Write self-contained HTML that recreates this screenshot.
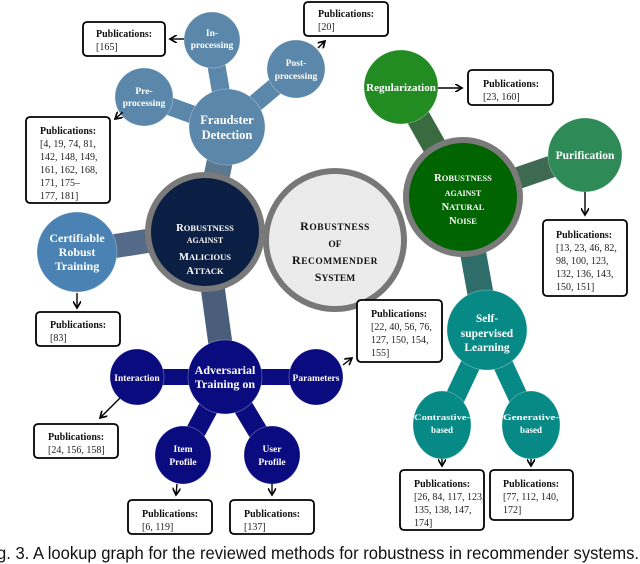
<!DOCTYPE html>
<html><head><meta charset="utf-8"><style>
html,body{margin:0;padding:0;background:#fff;width:640px;height:564px;overflow:hidden}
svg{display:block}
text{font-family:"Liberation Serif",serif}
.w{fill:#fff;font-weight:bold;text-anchor:middle}
.pb{font-size:10px;font-weight:bold;fill:#111}
.pr{font-size:10px;fill:#222}
.box{fill:#fff;stroke:#000;stroke-width:1.8}
.ar{stroke:#000;stroke-width:1.4;fill:none;marker-end:url(#ah)}
</style></head><body>
<svg width="640" height="564" viewBox="0 0 640 564" xmlns="http://www.w3.org/2000/svg">
<defs><marker id="ah" markerWidth="6" markerHeight="6" refX="5" refY="3" orient="auto"><path d="M0,0 L5,3 L0,6" fill="none" stroke="#000" stroke-width="1.2"/></marker></defs>
<g stroke-linecap="round">
<line x1="227" y1="127" x2="212" y2="40" stroke="#5b88aa" stroke-width="18"/>
<line x1="227" y1="127" x2="296" y2="69" stroke="#5b88aa" stroke-width="18"/>
<line x1="227" y1="127" x2="144" y2="97" stroke="#5b88aa" stroke-width="18"/>
<line x1="227" y1="127" x2="205" y2="232" stroke="#5b7890" stroke-width="26"/>
<line x1="77" y1="252" x2="205" y2="232" stroke="#556a88" stroke-width="24"/>
<line x1="205" y1="232" x2="225" y2="377" stroke="#4a5d7a" stroke-width="24"/>
<line x1="225" y1="377" x2="137" y2="377" stroke="#0b0b80" stroke-width="16"/>
<line x1="225" y1="377" x2="316" y2="377" stroke="#0b0b80" stroke-width="16"/>
<line x1="225" y1="377" x2="183" y2="455" stroke="#0b0b80" stroke-width="20"/>
<line x1="225" y1="377" x2="272" y2="455" stroke="#0b0b80" stroke-width="20"/>
<line x1="463" y1="197" x2="401" y2="87" stroke="#3a6a40" stroke-width="24"/>
<line x1="463" y1="197" x2="585" y2="155" stroke="#3d6a50" stroke-width="22"/>
<line x1="463" y1="197" x2="487" y2="330" stroke="#2e6d6a" stroke-width="26"/>
<line x1="487" y1="330" x2="442" y2="425" stroke="#078a85" stroke-width="20"/>
<line x1="487" y1="330" x2="531" y2="425" stroke="#078a85" stroke-width="20"/>
</g>
<circle cx="335" cy="240" r="69" fill="#ebebeb" stroke="#777" stroke-width="6"/>
<circle cx="205" cy="232" r="57" fill="#0b1f45" stroke="#7a7a7a" stroke-width="6"/>
<circle cx="463" cy="197" r="57" fill="#006400" stroke="#7a7a7a" stroke-width="6"/>
<g stroke="#ffffff55" stroke-width="0.8">
<circle cx="227" cy="127" r="38" fill="#5b88aa"/>
<circle cx="212" cy="40" r="28" fill="#5b88aa"/>
<circle cx="296" cy="69" r="29" fill="#5b88aa"/>
<circle cx="144" cy="97" r="29" fill="#5b88aa"/>
<circle cx="77" cy="252" r="40" fill="#4a82b4"/>
<circle cx="225" cy="377" r="37" fill="#0b0b80"/>
<ellipse cx="137" cy="377" rx="27" ry="28" fill="#0b0b80"/>
<ellipse cx="316" cy="377" rx="27" ry="28" fill="#0b0b80"/>
<ellipse cx="183" cy="455" rx="28" ry="29" fill="#0b0b80"/>
<ellipse cx="272" cy="455" rx="28" ry="29" fill="#0b0b80"/>
<circle cx="401" cy="87" r="37" fill="#228b22"/>
<circle cx="585" cy="155" r="37" fill="#2e8b57"/>
<circle cx="487" cy="330" r="40" fill="#078a85"/>
<ellipse cx="442" cy="425" rx="29" ry="34" fill="#078a85"/>
<ellipse cx="531" cy="425" rx="29" ry="34" fill="#078a85"/>
</g>
<g font-size="11.5">
<text x="335" y="230" text-anchor="middle" font-weight="bold" fill="#111" font-size="12" letter-spacing="0.5">R<tspan font-size="9.5">OBUSTNESS</tspan></text>
<text x="335" y="247" text-anchor="middle" font-weight="bold" fill="#111" font-size="9.5">OF</text>
<text x="335" y="264" text-anchor="middle" font-weight="bold" fill="#111" font-size="12" letter-spacing="0.5">R<tspan font-size="9.5">ECOMMENDER</tspan></text>
<text x="335" y="281" text-anchor="middle" font-weight="bold" fill="#111" font-size="12">S<tspan font-size="9.5">YSTEM</tspan></text>
<text x="205" y="231" class="w" font-size="10.5">R<tspan font-size="8.5">OBUSTNESS</tspan></text>
<text x="205" y="243" class="w" font-size="8">AGAINST</text>
<text x="205" y="260" class="w" font-size="10.5">M<tspan font-size="8.5">ALICIOUS</tspan></text>
<text x="205" y="274" class="w" font-size="10.5">A<tspan font-size="8.5">TTACK</tspan></text>
<text x="463" y="181" class="w" font-size="10.5">R<tspan font-size="8.5">OBUSTNESS</tspan></text>
<text x="463" y="196" class="w" font-size="8">AGAINST</text>
<text x="463" y="210" class="w" font-size="10.5">N<tspan font-size="8.5">ATURAL</tspan></text>
<text x="463" y="224" class="w" font-size="10.5">N<tspan font-size="8.5">OISE</tspan></text>
<text x="227" y="124" class="w" font-size="12.5">Fraudster</text>
<text x="227" y="139" class="w" font-size="12.5">Detection</text>
<text x="212" y="36" class="w" font-size="9.5">In-</text>
<text x="212" y="48" class="w" font-size="9.5">processing</text>
<text x="296" y="66" class="w" font-size="9.5">Post-</text>
<text x="296" y="79" class="w" font-size="9.5">processing</text>
<text x="144" y="94" class="w" font-size="9.5">Pre-</text>
<text x="144" y="106" class="w" font-size="9.5">processing</text>
<text x="77" y="242" class="w" font-size="12">Certifiable</text>
<text x="77" y="256" class="w" font-size="12">Robust</text>
<text x="77" y="270" class="w" font-size="12">Training</text>
<text x="225" y="374" class="w" font-size="12">Adversarial</text>
<text x="225" y="388" class="w" font-size="12">Training on</text>
<text x="137" y="381" class="w" font-size="9.5">Interaction</text>
<text x="316" y="381" class="w" font-size="9.5">Parameters</text>
<text x="183" y="452" class="w" font-size="9.5">Item</text>
<text x="183" y="465" class="w" font-size="9.5">Profile</text>
<text x="272" y="452" class="w" font-size="9.5">User</text>
<text x="272" y="465" class="w" font-size="9.5">Profile</text>
<text x="401" y="91" class="w" font-size="11">Regularization</text>
<text x="585" y="159" class="w" font-size="11.5">Purification</text>
<text x="487" y="322" class="w" font-size="11.5">Self-</text>
<text x="487" y="337" class="w" font-size="11.5">supervised</text>
<text x="487" y="351" class="w" font-size="11.5">Learning</text>
<text x="442" y="420" class="w" font-size="8.5" textLength="56" lengthAdjust="spacingAndGlyphs">Contrastive-</text>
<text x="442" y="433" class="w" font-size="9">based</text>
<text x="531" y="420" class="w" font-size="8.5" textLength="56" lengthAdjust="spacingAndGlyphs">Generative-</text>
<text x="531" y="433" class="w" font-size="9">based</text>
</g>
<line class="ar" x1="184" y1="39" x2="170" y2="39"/>
<line class="ar" x1="318" y1="48" x2="325" y2="41"/>
<line class="ar" x1="123" y1="112" x2="115" y2="119"/>
<line class="ar" x1="438" y1="88" x2="462" y2="88"/>
<line class="ar" x1="585" y1="192" x2="585" y2="215"/>
<line class="ar" x1="77" y1="293" x2="77" y2="308"/>
<line class="ar" x1="120" y1="398" x2="100" y2="418"/>
<line class="ar" x1="343" y1="365" x2="352" y2="358"/>
<line class="ar" x1="177" y1="484" x2="176" y2="495"/>
<line class="ar" x1="272" y1="484" x2="272" y2="495"/>
<line class="ar" x1="442" y1="459" x2="442" y2="466"/>
<line class="ar" x1="531" y1="459" x2="531" y2="466"/>
<rect class="box" x="83" y="22" width="82" height="34" rx="4"/>
<text class="pb" x="96" y="37">Publications:</text><text class="pr" x="96" y="50">[165]</text>
<rect class="box" x="304" y="2" width="84" height="34" rx="4"/>
<text class="pb" x="318" y="17">Publications:</text><text class="pr" x="318" y="30">[20]</text>
<rect class="box" x="26" y="117" width="84" height="86" rx="4"/>
<text class="pb" x="40" y="134">Publications:</text>
<text class="pr" x="40" y="147">[4, 19, 74, 81,</text><text class="pr" x="40" y="160">142, 148, 149,</text><text class="pr" x="40" y="173">161, 162, 168,</text><text class="pr" x="40" y="186">171, 175–</text><text class="pr" x="40" y="199">177, 181]</text>
<rect class="box" x="468" y="70" width="85" height="35" rx="4"/>
<text class="pb" x="483" y="87">Publications:</text><text class="pr" x="483" y="100">[23, 160]</text>
<rect class="box" x="543" y="220" width="84" height="76" rx="4"/>
<text class="pb" x="556" y="238">Publications:</text>
<text class="pr" x="556" y="251">[13, 23, 46, 82,</text><text class="pr" x="556" y="264">98, 100, 123,</text><text class="pr" x="556" y="277">132, 136, 143,</text><text class="pr" x="556" y="290">150, 151]</text>
<rect class="box" x="36" y="312" width="84" height="34" rx="4"/>
<text class="pb" x="50" y="328">Publications:</text><text class="pr" x="50" y="341">[83]</text>
<rect class="box" x="357" y="300" width="85" height="62" rx="4"/>
<text class="pb" x="371" y="317">Publications:</text>
<text class="pr" x="371" y="330">[22, 40, 56, 76,</text><text class="pr" x="371" y="343">127, 150, 154,</text><text class="pr" x="371" y="356">155]</text>
<rect class="box" x="34" y="424" width="84" height="34" rx="4"/>
<text class="pb" x="48" y="440">Publications:</text><text class="pr" x="48" y="453">[24, 156, 158]</text>
<rect class="box" x="128" y="500" width="84" height="34" rx="4"/>
<text class="pb" x="142" y="517">Publications:</text><text class="pr" x="142" y="530">[6, 119]</text>
<rect class="box" x="230" y="500" width="84" height="34" rx="4"/>
<text class="pb" x="244" y="517">Publications:</text><text class="pr" x="244" y="530">[137]</text>
<rect class="box" x="400" y="470" width="84" height="60" rx="4"/>
<text class="pb" x="414" y="487">Publications:</text>
<text class="pr" x="414" y="500">[26, 84, 117, 123,</text><text class="pr" x="414" y="513">135, 138, 147,</text><text class="pr" x="414" y="526">174]</text>
<rect class="box" x="490" y="470" width="83" height="50" rx="4"/>
<text class="pb" x="503" y="487">Publications:</text>
<text class="pr" x="503" y="500">[77, 112, 140,</text><text class="pr" x="503" y="513">172]</text>
<text x="-3" y="559" font-size="17.5" fill="#111" style="font-family:'Liberation Sans',sans-serif" textLength="642" lengthAdjust="spacingAndGlyphs">g. 3.  A lookup graph for the reviewed methods for robustness in recommender systems.</text>
</svg>
</body></html>
